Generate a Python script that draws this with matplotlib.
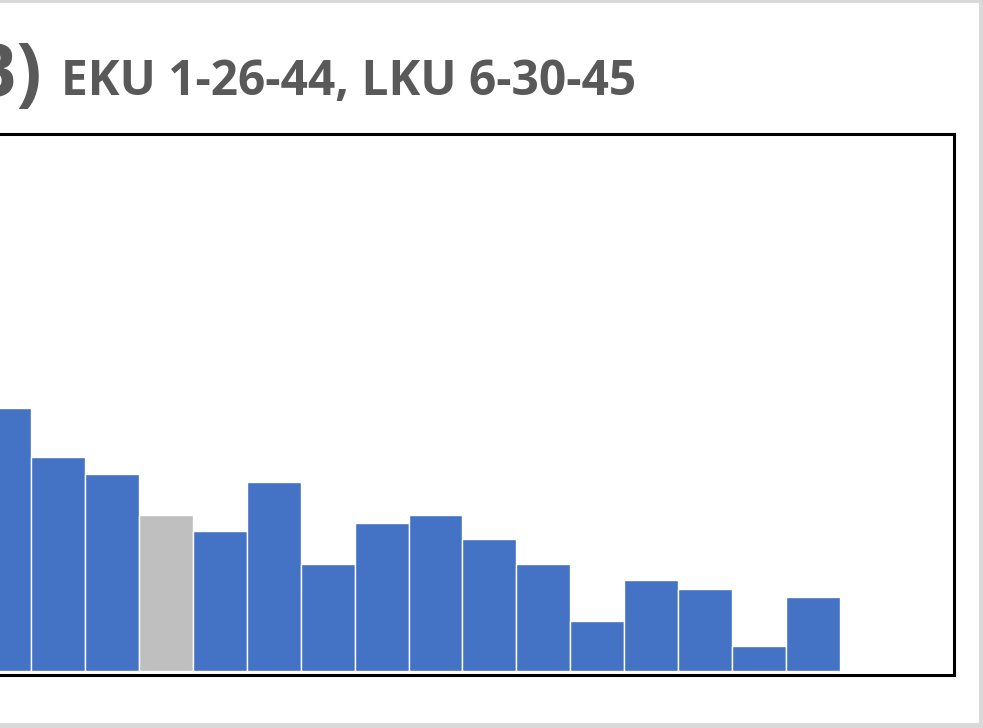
import matplotlib.pyplot as plt
import matplotlib as mpl
from matplotlib.patches import Rectangle
import numpy as np

# data (counts, left to right)
positions = np.arange(16)
counts = [32, 26, 24, 19, 17, 23, 13, 18, 19, 16, 13, 6, 11, 10, 3, 9]
highlight = 3   # the grey bar
title_tag = 'B)'
title_text = 'EKU 1-26-44, LKU 6-30-45'

BLUE = '#4472C4'
GREY = '#BFBFBF'
TXT = '#595959'

W, H = 983, 728
mpl.rcParams['font.family'] = ['Open Sans', 'DejaVu Sans']

fig = plt.figure(figsize=(W / 100, H / 100), dpi=100)
fig.patch.set_facecolor('#d9d9d9')
# white chart area inside the grey frame
fig.patches.append(Rectangle((-0.01, 5 / H), 979 / W + 0.01, 720 / H,
                             transform=fig.transFigure, facecolor='white',
                             edgecolor='none', zorder=-1))

# axes box in pixels: x -30..954, y 133.5..674.5 (from top)
ax = fig.add_axes([-30 / W, (H - 674.5) / H, 984 / W, 541 / H])
ax.set_zorder(2)
colors = [GREY if i == highlight else BLUE for i in range(len(counts))]
ax.bar(positions, counts, width=1.0, color=colors, edgecolor='white', linewidth=1.0)

px_per_x = 53.93
ax.set_xlim((-30 - 4.04) / px_per_x, (954 - 4.04) / px_per_x)
px_per_y = 8.2
ax.set_ylim(-4.0 / px_per_y, (670.5 - 133.5) / px_per_y)
ax.set_xticks([])
ax.set_yticks([])
for s in ax.spines.values():
    s.set_linewidth(2.2)
    s.set_color('black')

# title, drawn in two parts
fig.text(42 / W, (H - 97) / H, title_tag, fontsize=54, fontweight='bold',
         color=TXT, ha='right', va='baseline')
fig.text(61 / W, (H - 95) / H, title_text, fontsize=34.5, fontweight='bold',
         color=TXT, ha='left', va='baseline')

plt.savefig('out.png', dpi=100, facecolor=fig.get_facecolor())
